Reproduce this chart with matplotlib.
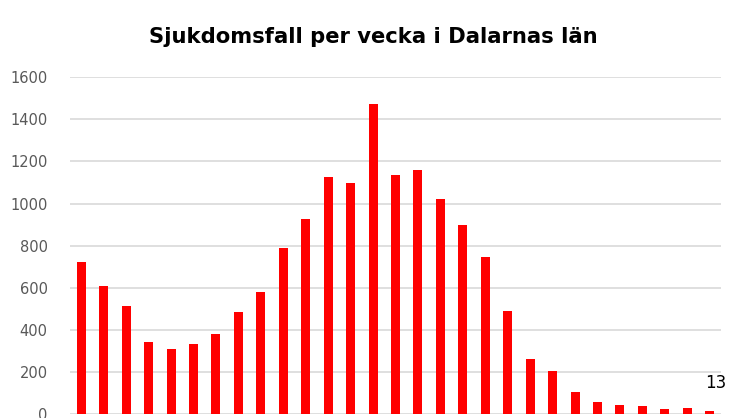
import matplotlib.pyplot as plt
import numpy as np

# --------- Data ---------
weeks = list(range(1, 30))
cases = [720, 608, 513, 342, 309, 333, 380, 485, 580, 789, 927, 1126, 1098, 1473,
         1136, 1160, 1022, 898, 746, 490, 261, 204, 105, 57, 43, 40, 24, 29, 13]
title = "Sjukdomsfall per vecka i Dalarnas län"
yticks = [0, 200, 400, 600, 800, 1000, 1200, 1400, 1600]
# ------------------------

W, H = 745, 418
fig = plt.figure(figsize=(W / 100, H / 100), dpi=100)
ax = fig.add_axes([70 / W, 4 / H, 651 / W, (414 - 77.3) / H])

x = np.arange(len(cases))
ax.bar(x, cases, width=0.4, color='#ff0000', zorder=3)

ax.set_xlim(-0.5, len(cases) - 0.5)
ax.set_ylim(0, 1600)
ax.set_yticks(yticks)
ax.set_yticklabels([str(v) for v in yticks], fontsize=10.5, color='#595959')
ax.set_xticks([])
ax.tick_params(axis='y', length=0, pad=16)
ax.grid(axis='y', color='#d9d9d9', linewidth=1.2, zorder=0)
for s in ax.spines.values():
    s.set_visible(False)

# etikett på sista stapeln
ax.annotate(str(cases[-1]), (x[-1], cases[-1]), xytext=(4, 14),
            textcoords='offset points', ha='center', va='bottom',
            fontsize=12, color='black')

fig.text(373 / W, 1 - 37 / H, title, ha='center', va='center',
         fontsize=15.2, fontweight='bold', color='black')

fig.savefig('out.png', dpi=100)
